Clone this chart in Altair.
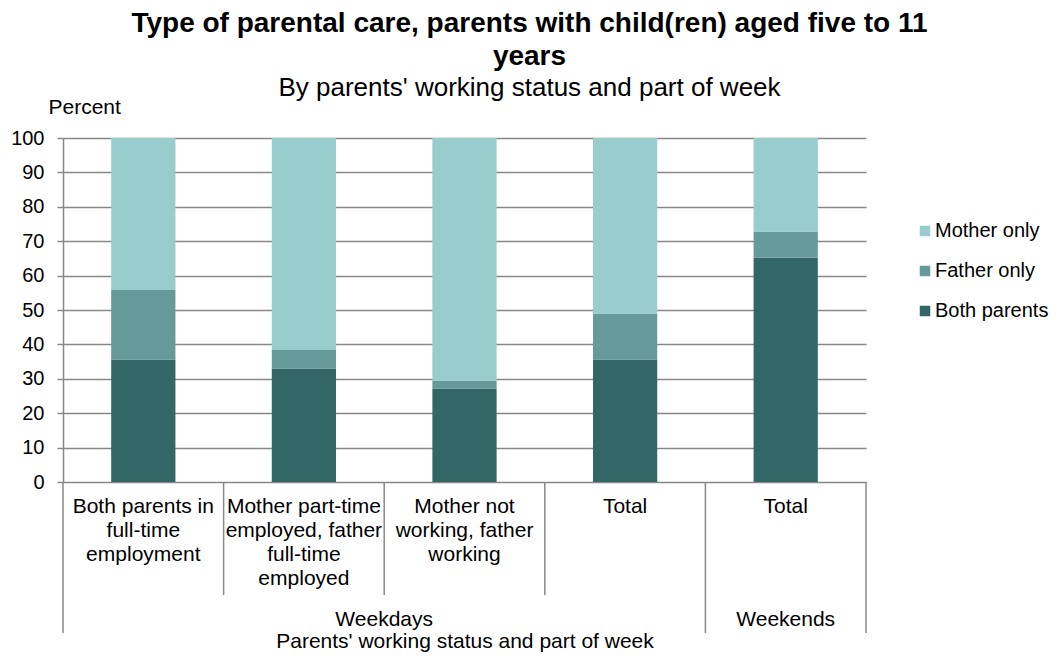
import altair as alt
import pandas as pd

# ---- data ----
categories = [
    "Both parents in\nfull-time\nemployment",
    "Mother part-time\nemployed, father\nfull-time\nemployed",
    "Mother not\nworking, father\nworking",
    "Total",
    "Total",
]
groups = ["Weekdays", "Weekdays", "Weekdays", "Weekdays", "Weekends"]
both_parents = [35.6, 33.0, 27.2, 35.6, 65.2]
father_only = [20.2, 5.4, 2.2, 13.4, 7.6]
mother_only = [44.2, 61.6, 70.6, 51.0, 27.2]
series_names = ["Mother only", "Father only", "Both parents"]
series_colors = ["#99CCCC", "#669999", "#336666"]
y_ticks = list(range(0, 101, 10))

FONT = "Liberation Sans"
W, H = 803, 344

# ---- tables ----
rows = []
for i, cat in enumerate(categories):
    for name, vals, order in [("Both parents", both_parents, 0),
                              ("Father only", father_only, 1),
                              ("Mother only", mother_only, 2)]:
        rows.append({"pos": i, "x0": i + 0.3, "x1": i + 0.7, "series": name,
                     "value": vals[i], "order": order})
bars_df = pd.DataFrame(rows)

cat_df = pd.DataFrame({"mid": [i + 0.5 for i in range(len(categories))],
                       "label": categories})

# group spans
grp_rows = []
start = 0
for i in range(1, len(groups) + 1):
    if i == len(groups) or groups[i] != groups[start]:
        grp_rows.append({"name": groups[start], "mid": (start + i) / 2, "start": start, "end": i})
        start = i
grp_df = pd.DataFrame(grp_rows)

bounds = sorted(set([g["start"] for g in grp_rows] + [g["end"] for g in grp_rows]))
sep_rows = []
for b in range(len(categories) + 1):
    sep_rows.append({"pos": b, "kind": "long" if b in bounds else "short"})
sep_df = pd.DataFrame(sep_rows)

xscale = alt.Scale(domain=[0, len(categories)], nice=False, zero=False)

bars = alt.Chart(bars_df).transform_stack(
    stack="value", groupby=["pos"], as_=["y0", "y1"],
    sort=[alt.SortField("order", order="ascending")],
).mark_bar().encode(
    x=alt.X("x0:Q", scale=xscale,
            axis=alt.Axis(labels=False, ticks=False, domain=False, grid=False,
                          title="Parents' working status and part of week",
                          titleFont=FONT, titleFontSize=21, titleFontWeight="normal",
                          titleColor="#000000", titleY=159, titleBaseline="middle")),
    x2="x1:Q",
    y=alt.Y("y0:Q",
            scale=alt.Scale(domain=[0, 100], nice=False),
            axis=alt.Axis(values=y_ticks, title="Percent", titleAngle=0,
                          titleAlign="left", titleBaseline="middle",
                          titleX=-15, titleY=-31, titleFont=FONT, titleFontSize=21,
                          titleFontWeight="normal", titleColor="#000000",
                          labelFont=FONT, labelFontSize=20, labelColor="#000000",
                          labelPadding=13, tickSize=6, tickColor="#888888", tickWidth=1.5,
                          domainColor="#888888", domainWidth=1.5,
                          gridColor="#888888", gridWidth=1.5)),
    y2="y1:Q",
    color=alt.Color("series:N",
                    scale=alt.Scale(domain=series_names, range=series_colors),
                    legend=alt.Legend(title=None, orient="none", legendX=852, legendY=83,
                                      symbolType="square", symbolSize=110,
                                      symbolStrokeWidth=0, labelFont=FONT,
                                      labelFontSize=20, labelColor="#000000",
                                      rowPadding=20, labelOffset=0)),
)

sep_short = alt.Chart(sep_df).transform_filter("datum.kind == 'short'").mark_rule(
    color="#888888", strokeWidth=1.5).encode(
    x=alt.X("pos:Q", scale=xscale), y=alt.value(H), y2=alt.value(H + 113))
sep_long = alt.Chart(sep_df).transform_filter("datum.kind == 'long'").mark_rule(
    color="#888888", strokeWidth=1.5).encode(
    x=alt.X("pos:Q", scale=xscale), y=alt.value(H), y2=alt.value(H + 151))

cat_text = alt.Chart(cat_df).mark_text(
    font=FONT, fontSize=21, baseline="top", align="center", lineBreak="\n",
    lineHeight=24, color="#000000").encode(
    x=alt.X("mid:Q", scale=xscale), y=alt.value(H + 14), text="label:N")

grp_text = alt.Chart(grp_df).mark_text(
    font=FONT, fontSize=21, baseline="middle", align="center", color="#000000").encode(
    x=alt.X("mid:Q", scale=xscale), y=alt.value(H + 138), text="name:N")

chart = alt.layer(bars, sep_short, sep_long, cat_text, grp_text).properties(
    width=W, height=H,
    autosize=alt.AutoSizeParams(type="none"),
    padding={"left": 55, "top": 130, "right": 185, "bottom": 172},
    title=alt.Title(
        text=["Type of parental care, parents with child(ren) aged five to 11", "years"],
        subtitle="By parents' working status and part of week",
        font=FONT, fontSize=28, fontWeight="bold", color="#000000", lineHeight=33,
        subtitleFont=FONT, subtitleFontSize=26, subtitleColor="#000000",
        anchor="middle", dx=65, offset=-5, subtitlePadding=4),
).configure_view(stroke=None)

chart.save("out.html", embed_options={"renderer": "svg", "actions": False})
